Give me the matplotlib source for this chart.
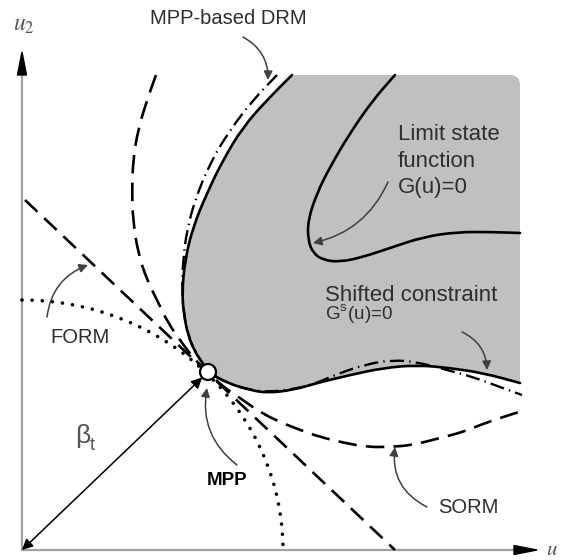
import numpy as np
import matplotlib.pyplot as plt
from matplotlib.path import Path
from matplotlib.patches import PathPatch, Circle, Arc, Polygon

plt.rcParams['font.family'] = ['Liberation Sans', 'DejaVu Sans']
plt.rcParams['mathtext.fontset'] = 'stix'

# sketch coordinates: x to the right, y downward (pixels of the drawing)
origin = (22, 550)
mpp = (208, 372)
beta_radii = (261, 250)          # dotted beta_t circle around the origin
y_axis_tip = (22, 52)
x_axis_tip = (537, 550)

# shifted constraint G^s(u)=0, border of the shaded region
shifted_x = [292, 267, 243, 223, 207, 193, 185, 182, 184, 188, 195, 202, 208,
             227, 250, 267, 293, 317, 350, 383, 417, 450, 483, 520]
shifted_y = [75, 100, 127, 160, 193, 227, 260, 293, 315, 335, 352, 362, 372,
             383, 390, 393, 390, 383, 375, 368, 365, 368, 373, 383]
region_right = 520
region_top = 75

# limit state function G(u)=0
limit_x = [395, 373, 350, 330, 317, 308, 308, 313, 323, 340, 363, 390, 423, 457, 490, 520]
limit_y = [75, 100, 133, 167, 193, 220, 240, 253, 260, 262, 257, 248, 237, 232, 232, 233]

# MPP-based DRM approximation (dash-dot)
drm_x = [277, 253, 230, 210, 195, 187, 183, 182, 184, 188, 195, 202, 208, 227,
         250, 270, 293, 312, 337, 367, 393, 417, 447, 473, 500, 522]
drm_y = [75, 100, 130, 163, 200, 230, 260, 290, 315, 335, 352, 362, 372, 383,
         390, 392, 389, 385, 374, 364, 360, 362, 370, 377, 387, 395]

# SORM approximation (dashed parabola)
sorm_x = [156, 147, 138, 133, 132, 133, 138, 147, 157, 168, 182, 195, 208, 222,
          240, 257, 275, 300, 320, 345, 367, 390, 413, 440, 463, 480, 500, 522]
sorm_y = [75, 100, 130, 160, 193, 220, 253, 280, 300, 323, 343, 360, 372, 386,
          398, 410, 420, 430, 437, 443, 447, 447, 445, 438, 432, 425, 418, 411]

# FORM approximation (tangent line at the MPP)
form_x = [25, 395]
form_y = [200, 550]

# labels: text, left x, baseline y, size
labels = [
    ("MPP-based DRM", 150, 24, 14.5),
    ("Limit state", 398, 140, 16),
    ("function", 398, 167, 16),
    ("G(u)=0", 398, 193, 16),
    ("Shifted constraint", 325, 301, 16),
    ("G$^\\mathregular{s}$(u)=0", 325, 320, 13.5),
    ("FORM", 50, 343, 14.5),
    ("SORM", 438, 513, 14.5),
]
# pointer arrows: text start, arrow tip, bend
pointers = [
    ((243, 37), (268, 80), -0.3),
    ((388, 182), (313, 243), -0.25),
    ((462, 332), (487, 370), -0.3),
    ((47, 317), (88, 265), -0.3),
    ((237, 465), (207, 388), -0.3),
    ((427, 507), (395, 447), -0.35),
]


def smooth_path(xs, ys):
    pts = np.column_stack([xs, ys]).astype(float)
    mids = (pts[:-1] + pts[1:]) / 2
    verts = [pts[0], mids[0]]
    codes = [Path.MOVETO, Path.LINETO]
    for i in range(1, len(pts) - 1):
        verts += [pts[i], mids[i]]
        codes += [Path.CURVE3, Path.CURVE3]
    verts.append(pts[-1])
    codes.append(Path.LINETO)
    return verts, codes


fig = plt.figure(figsize=(5.68, 5.6), dpi=100)
ax = fig.add_axes([0, 0, 1, 1])
ax.set_xlim(0, 568)
ax.set_ylim(560, 0)
ax.axis('off')

# shaded failure region
v, c = smooth_path(shifted_x, shifted_y)
v += [(region_right, region_top + 10), (region_right, region_top),
      (region_right - 10, region_top), (shifted_x[0], shifted_y[0])]
c += [Path.LINETO, Path.CURVE3, Path.CURVE3, Path.CLOSEPOLY]
ax.add_patch(PathPatch(Path(v, c), facecolor='#c0c0c0', edgecolor='none', zorder=1))

# axes
ax.plot([origin[0], origin[0]], [origin[1], y_axis_tip[1] + 15], color='#a0a0a0', lw=1.6, zorder=2)
ax.plot([origin[0], x_axis_tip[0] - 15], [origin[1], origin[1]], color='#a0a0a0', lw=1.6, zorder=2)
ax.add_patch(Polygon([y_axis_tip, (y_axis_tip[0] - 4.5, y_axis_tip[1] + 23),
                      (y_axis_tip[0] + 4.5, y_axis_tip[1] + 23)], color='black', zorder=3))
ax.add_patch(Polygon([x_axis_tip, (x_axis_tip[0] - 23, x_axis_tip[1] - 4.5),
                      (x_axis_tip[0] - 23, x_axis_tip[1] + 4.5)], color='black', zorder=3))
ax.text(13, 31, "$u_2$", fontsize=17, color='#555555', va='baseline')
ax.text(546, 555, "$u$", fontsize=15, color='#555555', va='baseline')

# beta_t circle (y axis points down, so the upper-right quarter is 270..360)
ax.add_patch(Arc(origin, 2 * beta_radii[0], 2 * beta_radii[1], theta1=270, theta2=360,
                 color='black', lw=2.6, linestyle=(0, (0.01, 2.8)), capstyle='round', zorder=3))

# FORM line
ax.plot(form_x, form_y, color='black', lw=1.9, linestyle=(0, (6.5, 3.5)), zorder=3)

# SORM curve
v, c = smooth_path(sorm_x, sorm_y)
ax.add_patch(PathPatch(Path(v, c), fill=False, edgecolor='black', lw=1.9,
                       linestyle=(0, (7, 3.5)), zorder=3))

# MPP-based DRM curve
v, c = smooth_path(drm_x, drm_y)
ax.add_patch(PathPatch(Path(v, c), fill=False, edgecolor='black', lw=1.7,
                       linestyle=(0, (6, 2.2, 0.6, 2.2)), zorder=3))

# limit state and shifted constraint
for xs, ys in [(shifted_x, shifted_y), (limit_x, limit_y)]:
    v, c = smooth_path(xs, ys)
    ax.add_patch(PathPatch(Path(v, c), fill=False, edgecolor='black', lw=1.9,
                           capstyle='round', zorder=4))

# beta_t arrow from origin to MPP
d = np.array([mpp[0] - origin[0], mpp[1] - origin[1]], dtype=float)
d /= np.hypot(*d)
ax.annotate('', xy=(mpp[0] - 8 * d[0], mpp[1] - 8 * d[1]), xytext=origin,
            arrowprops=dict(arrowstyle='<|-|>', color='black', lw=1.1,
                            mutation_scale=16, shrinkA=0, shrinkB=0), zorder=4)
ax.text(75, 443, "β", fontsize=19, color='#555555', va='baseline')
ax.text(90, 450, "t", fontsize=13, color='#555555', va='baseline')

ax.add_patch(Circle(mpp, 8, facecolor='white', edgecolor='black', lw=1.6, zorder=6))
ax.text(207, 485, "MPP", fontsize=13.5, fontweight='bold', color='black', va='baseline')

for text, x, y, size in labels:
    ax.text(x, y, text, fontsize=size, color='#2e2e2e', va='baseline')

for start, tip, rad in pointers:
    ax.annotate('', xy=tip, xytext=start,
                arrowprops=dict(arrowstyle='-|>', color='#404040', lw=1.1,
                                mutation_scale=13, shrinkA=0, shrinkB=0,
                                connectionstyle=f'arc3,rad={rad}'), zorder=5)

fig.savefig('out.png', dpi=100)
